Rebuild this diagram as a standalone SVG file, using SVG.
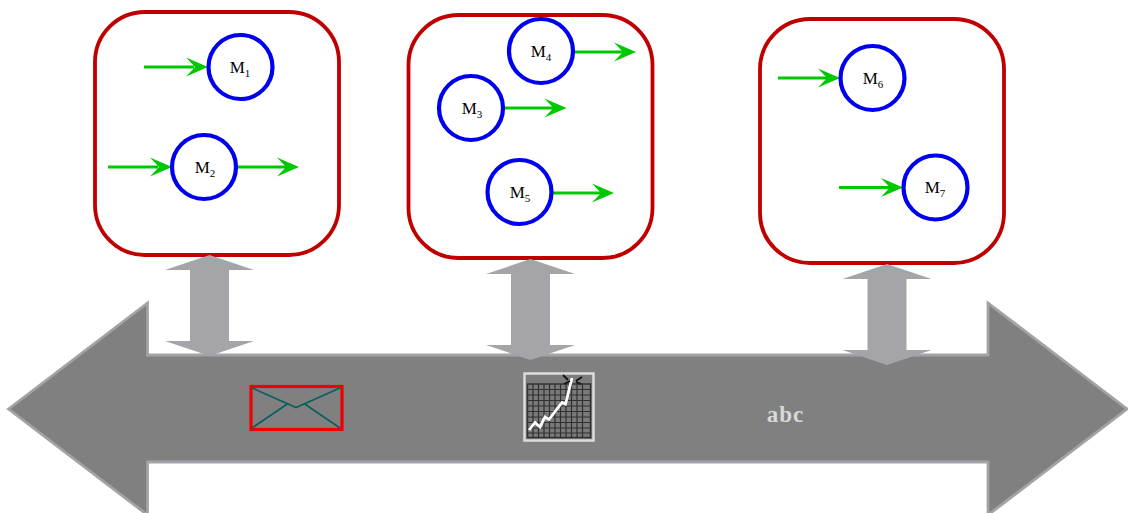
<svg xmlns="http://www.w3.org/2000/svg" width="1128" height="513" viewBox="0 0 1128 513">
<style>
.box{fill:#fff;stroke:#c00000;stroke-width:3.800}
.m{fill:#fff;stroke:#0000ee;stroke-width:4.200}
.w{stroke:#00c800;stroke-width:3;fill:none}
.h{fill:#00c800;stroke:none}
.va{fill:#a5a4a9}
text{font-family:"Liberation Serif","Times New Roman",serif}
.l{font-size:17px;fill:#000;text-anchor:middle}
.s{font-size:11px}
</style>
<defs>
<path id="head" class="h" d="M0 0L-22-9.500L-13 0L-22 9.500Z"/>
<path id="dbl" class="va" d="M0 0L44.500 15H19.500V86H44.500L0 101L-44.500 86H-19.500V15H-44.500Z"/>
</defs>
<g id="bus">
<path d="M8.500 409L147.500 303V355H988V303L1127 409L988 515V462H147.500V515Z" fill="#808080" stroke="#a3a2a7" stroke-width="2.800"/>
</g>
<g id="box1"><rect class="box" x="95" y="12" width="244" height="243" rx="50"/></g>
<g id="box2"><rect class="box" x="408.500" y="15" width="244" height="243" rx="50"/></g>
<g id="box3"><rect class="box" x="760" y="19" width="244" height="244" rx="50"/></g>
<g id="connectors">
<use href="#dbl" x="209.500" y="255"/>
<use href="#dbl" x="530.500" y="259"/>
<use href="#dbl" x="887" y="264"/>
<path class="w" d="M144 67H194"/><use href="#head" x="208" y="67"/>
<path class="w" d="M108 167H158"/><use href="#head" x="172" y="167"/>
<path class="w" d="M237 167H288"/><use href="#head" x="299" y="167"/>
<path class="w" d="M574 52H625"/><use href="#head" x="636" y="52"/>
<path class="w" d="M504 108H555"/><use href="#head" x="566.500" y="108"/>
<path class="w" d="M552 193H603"/><use href="#head" x="614" y="193"/>
<path class="w" d="M778 78H827"/><use href="#head" x="840" y="78"/>
<path class="w" d="M839 187.500H890"/><use href="#head" x="903" y="187.500"/>
</g>
<g id="M1"><circle class="m" cx="240.500" cy="67" r="32"/><text class="l" x="240" y="73">M<tspan class="s" dy="4">1</tspan></text></g>
<g id="M2"><circle class="m" cx="204" cy="167" r="32"/><text class="l" x="205" y="173">M<tspan class="s" dy="4">2</tspan></text></g>
<g id="M3"><circle class="m" cx="471" cy="108" r="32"/><text class="l" x="472" y="114">M<tspan class="s" dy="4">3</tspan></text></g>
<g id="M4"><circle class="m" cx="541" cy="51" r="32"/><text class="l" x="541" y="57">M<tspan class="s" dy="4">4</tspan></text></g>
<g id="M5"><circle class="m" cx="519.500" cy="192" r="32"/><text class="l" x="520" y="198">M<tspan class="s" dy="4">5</tspan></text></g>
<g id="M6"><circle class="m" cx="872.500" cy="78" r="32"/><text class="l" x="873" y="84">M<tspan class="s" dy="4">6</tspan></text></g>
<g id="M7"><circle class="m" cx="935.500" cy="187.500" r="32"/><text class="l" x="935" y="193">M<tspan class="s" dy="4">7</tspan></text></g>
<g id="mail">
<rect x="251" y="386.500" width="91" height="43" fill="#808080" stroke="#f00000" stroke-width="3.200"/>
<path d="M252 388L296 407.500L340 388M252 428L288 403.500M340 428L304 403.500" fill="none" stroke="#0c5f5f" stroke-width="1.700"/>
</g>
<g id="chart">
<rect x="524.500" y="373.500" width="69" height="67" fill="#7c7c7c" stroke="#dcdcdc" stroke-width="2.500"/>
<rect x="527.500" y="384" width="63" height="53.500" fill="#7a7a7a" stroke="#333" stroke-width="1.500"/>
<path d="M533 384V437M538.500 384V437M544 384V437M549.500 384V437M555 384V437M560.500 384V437M566 384V437M571.500 384V437M577 384V437M582.500 384V437M527 389.500H591M527 395H591M527 400.500H591M527 406H591M527 411.500H591M527 417H591M527 422.500H591M527 428H591M527 433H591" stroke="#303030" stroke-width="1.200" fill="none"/>
<path d="M529 430L535 422.500L540 427L545 417L549 419.500L562 402.500L565.500 404L572 378" fill="none" stroke="#fff" stroke-width="2.800"/>
<path d="M563 375L568 380M564 384L570 381M582 377L576 381M581 384L576 382" stroke="#111" stroke-width="1.800" fill="none"/>
</g>
<g id="label"><text x="785.500" y="422" font-size="23" font-weight="bold" letter-spacing="1" fill="#d9d9d9" text-anchor="middle">abc</text></g>
</svg>
